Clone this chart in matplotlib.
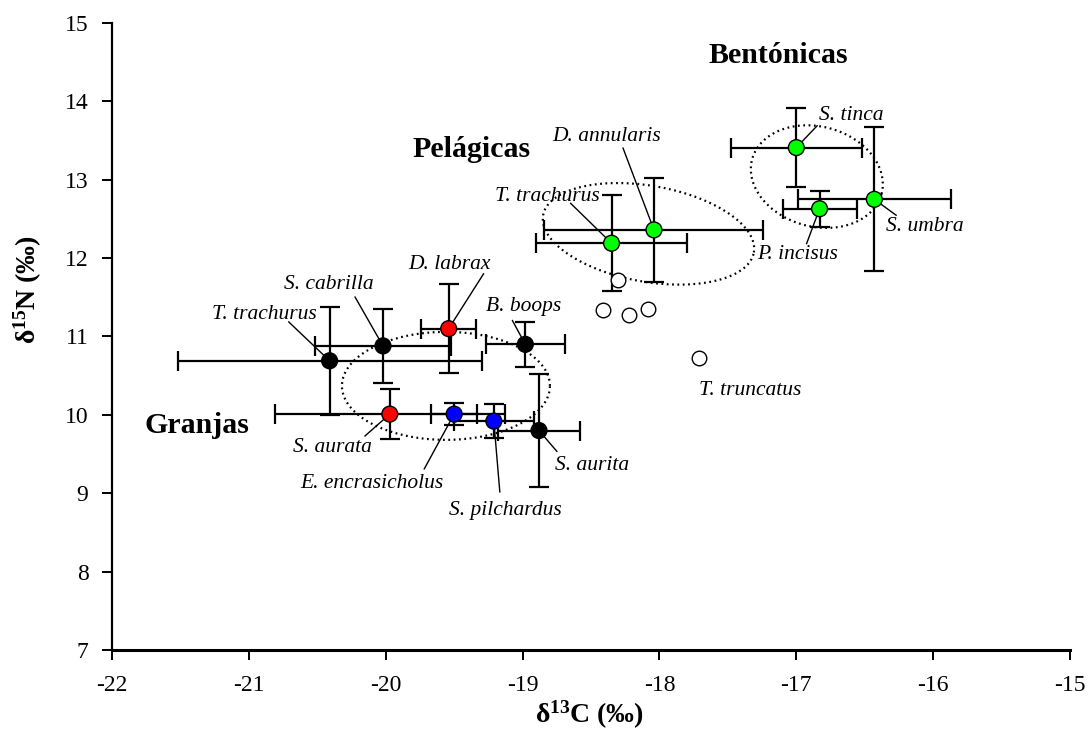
import numpy as np
import matplotlib.pyplot as plt

plt.rcParams['font.family'] = ['Liberation Serif', 'DejaVu Serif']
plt.rcParams['mathtext.fontset'] = 'custom'
plt.rcParams['mathtext.rm'] = 'Liberation Serif'
plt.rcParams['mathtext.bf'] = 'Liberation Serif:bold'
plt.rcParams['mathtext.it'] = 'Liberation Serif:italic'
plt.rcParams['axes.unicode_minus'] = False

# species means and standard deviations
species = ['T. trachurus', 'S. cabrilla', 'D. labrax', 'B. boops', 'S. aurata',
           'E. encrasicholus', 'S. pilchardus', 'S. aurita', 'T. trachurus',
           'D. annularis', 'S. tinca', 'P. incisus', 'S. umbra']
d13c = [-20.41, -20.02, -19.54, -18.98, -19.97, -19.50, -19.21, -18.88,
        -18.35, -18.04, -17.00, -16.83, -16.43]
d15n = [10.69, 10.88, 11.10, 10.90, 10.01, 10.01, 9.92, 9.80,
        12.19, 12.36, 13.41, 12.63, 12.75]
d13c_sd = [1.11, 0.50, 0.20, 0.29, 0.84, 0.17, 0.29, 0.30,
           0.55, 0.80, 0.48, 0.27, 0.56]
d15n_sd = [0.69, 0.47, 0.57, 0.29, 0.32, 0.14, 0.22, 0.72,
           0.61, 0.66, 0.50, 0.23, 0.92]
point_colors = ['black', 'black', 'red', 'black', 'red', 'blue', 'blue', 'black',
                'lime', 'lime', 'lime', 'lime', 'lime']

# T. truncatus individuals
trunc_c = [-18.30, -18.41, -18.22, -18.08, -17.71]
trunc_n = [11.72, 11.34, 11.27, 11.35, 10.73]

# groups: name, label position, ellipse centre
groups = ['Granjas', 'Pelágicas', 'Bentónicas']
group_label_x = [-21.38, -19.37, -17.13]
group_label_y = [9.86, 13.39, 14.58]
ell_cx = [-19.56, -18.08, -16.85]
ell_cy = [10.37, 12.31, 13.04]

# layout: ellipse half-axes (px) and angle
ell_a = [104, 107, 67]
ell_b = [54, 48, 50]
ell_ang = [0, -10, -15]

# layout: label text offset and leader start offset (pixels, y down)
label_off = [(-65, -46), (-54, -61), (1, -64), (-2, -38), (-57, 33), (-82, 69),
             (12, 89), (53, 35), (-64, -47), (-47, -93), (55, -32), (-22, 46), (51, 27)]
leader_off = [(-41, -39), (-28, -49), (35, -55), (-13, -24), (-25, 22), (-30, 55),
              (6, 71), (18, 21), (-41, -40), (-31, -82), (21, -22), (-13, 35), (22, 16)]

fig = plt.figure(figsize=(10.89, 7.51), dpi=100)
ax = fig.add_axes([0.10285, 0.13449, 0.87971, 0.83489])

ax.errorbar(d13c, d15n, xerr=d13c_sd, yerr=d15n_sd, fmt='none', ecolor='black',
            elinewidth=1.6, capsize=7, capthick=1.6, zorder=2)
ax.scatter(d13c, d15n, s=130, c=point_colors, edgecolors='black', linewidths=1.0, zorder=4)
ax.scatter(trunc_c, trunc_n, s=110, facecolors='white', edgecolors='black',
           linewidths=1.0, zorder=4)

ax.set_xlim(-22, -15)
ax.set_ylim(7, 15)
ax.set_xticks(np.arange(-22, -14, 1))
ax.set_yticks(np.arange(7, 16, 1))
ax.spines['top'].set_visible(False)
ax.spines['right'].set_visible(False)
ax.spines['left'].set_linewidth(1.6)
ax.spines['bottom'].set_linewidth(2.2)
ax.tick_params(axis='both', direction='out', length=7, width=1.4, labelsize=17)
ax.tick_params(axis='x', pad=11)
ax.tick_params(axis='y', pad=10)

# dotted group ellipses
bbox = ax.get_window_extent()
sx = bbox.width / 7.0
sy = bbox.height / 8.0
t = np.linspace(0, 2 * np.pi, 300)
for cx, cy, a, b, ang in zip(ell_cx, ell_cy, ell_a, ell_b, ell_ang):
    th = np.deg2rad(ang)
    ex = a * np.cos(t) * np.cos(th) - b * np.sin(t) * np.sin(th)
    ey = a * np.cos(t) * np.sin(th) + b * np.sin(t) * np.cos(th)
    ax.plot(cx + ex / sx, cy + ey / sy, color='black', lw=1.6,
            linestyle=(0, (0.8, 1.6)), zorder=3)

# species labels with leader lines
for i, name in enumerate(species):
    lx, ly = leader_off[i]
    tx, ty = label_off[i]
    ax.annotate('', xy=(d13c[i], d15n[i]), xytext=(lx, -ly), textcoords='offset pixels',
                arrowprops=dict(arrowstyle='-', color='black', lw=1.0,
                                shrinkA=0, shrinkB=6), zorder=3)
    ax.annotate(name, xy=(d13c[i], d15n[i]), xytext=(tx, -ty), textcoords='offset pixels',
                ha='center', va='center', fontsize=15.5, style='italic', zorder=5)

ax.annotate('T. truncatus', xy=(trunc_c[-1], trunc_n[-1]), xytext=(51, -33),
            textcoords='offset pixels', ha='center', va='center', fontsize=15.5,
            style='italic')

for g, gx, gy in zip(groups, group_label_x, group_label_y):
    ax.text(gx, gy, g, ha='center', va='center', fontsize=21.5, fontweight='bold')

fig.text(589 / 1089, 1 - 715 / 751, r'$\mathbf{δ^{13}C\ (‰)}$', ha='center', va='center',
         fontsize=20)
fig.text(28 / 1089, 1 - 290 / 751, r'$\mathbf{δ^{15}N\ (‰)}$', ha='center', va='center',
         fontsize=20, rotation=90)

fig.savefig('out.png', dpi=100)
